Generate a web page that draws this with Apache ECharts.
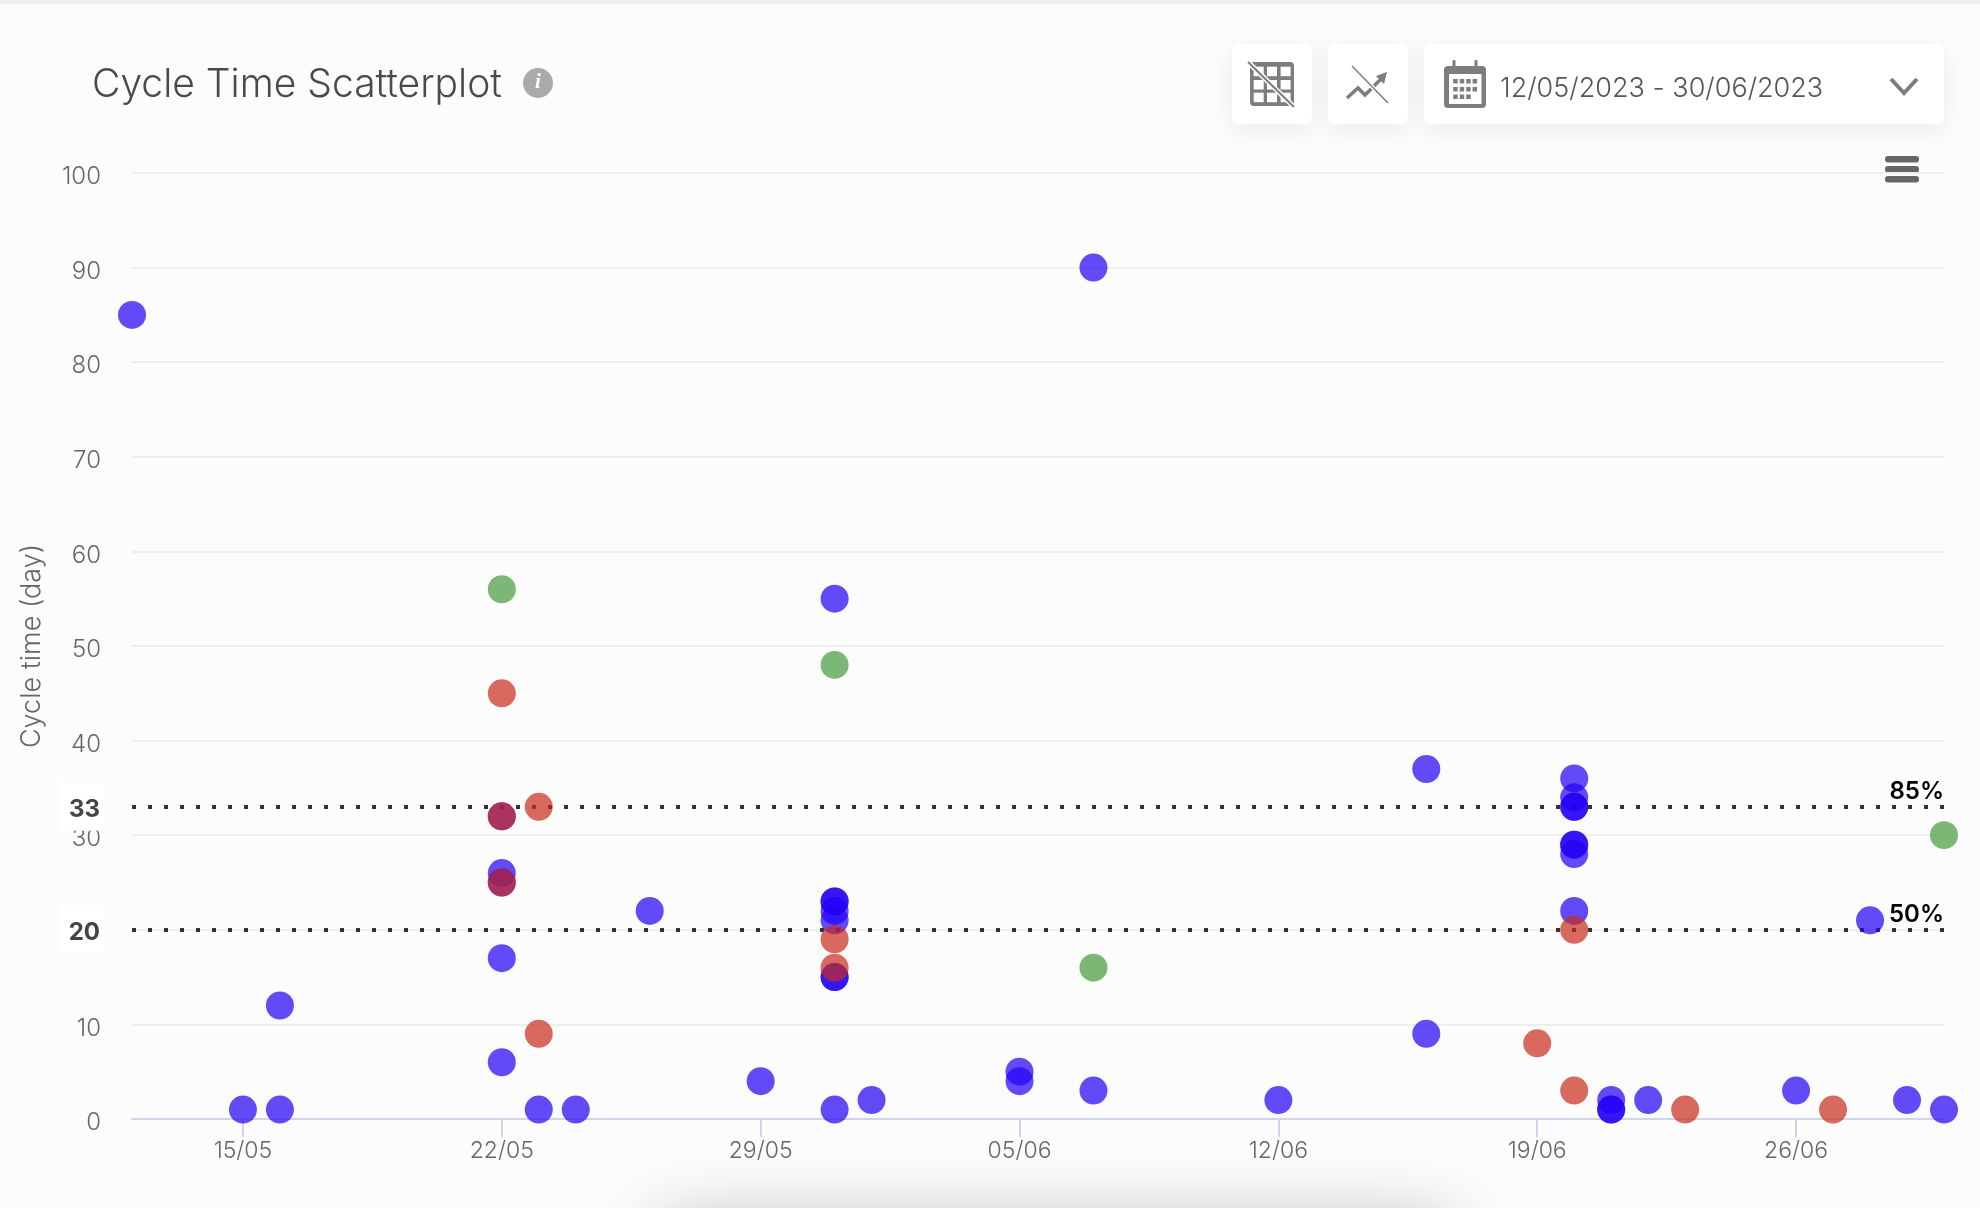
<!DOCTYPE html>
<html>
<head>
<meta charset="utf-8">
<title>Cycle Time Scatterplot</title>
<script src="https://cdn.jsdelivr.net/npm/echarts@6/dist/echarts.min.js"></script>
<style>
html, body { margin: 0; padding: 0; background: #fcfcfc; }
#chart { width: 1980px; height: 1208px; }
</style>
</head>
<body>
<div id="chart"></div>
<script>
'use strict'
// every day of the range, one slot each on the x axis
const days = [
    '12/05','13/05','14/05','15/05','16/05','17/05','18/05','19/05','20/05','21/05',
    '22/05','23/05','24/05','25/05','26/05','27/05','28/05','29/05','30/05','31/05',
    '01/06','02/06','03/06','04/06','05/06','06/06','07/06','08/06','09/06','10/06',
    '11/06','12/06','13/06','14/06','15/06','16/06','17/06','18/06','19/06','20/06',
    '21/06','22/06','23/06','24/06','25/06','26/06','27/06','28/06','29/06','30/06'
];
const tickDays = ['15/05','22/05','29/05','05/06','12/06','19/06','26/06'];

// [closed day, cycle time in days]
const storyPoints = [
    ['12/05',85],['15/05',1],['16/05',12],['16/05',1],
    ['22/05',32],['22/05',26],['22/05',25],['22/05',17],['22/05',6],
    ['23/05',1],['24/05',1],['26/05',22],['29/05',4],
    ['31/05',55],['31/05',23],['31/05',23],['31/05',22],['31/05',21],['31/05',15],['31/05',15],['31/05',1],
    ['01/06',2],['05/06',5],['05/06',4],['07/06',90],['07/06',3],['12/06',2],
    ['16/06',37],['16/06',9],
    ['20/06',36],['20/06',34],['20/06',33],['20/06',33],['20/06',29],['20/06',29],['20/06',28],['20/06',22],
    ['21/06',2],['21/06',1],['21/06',1],['22/06',2],['26/06',3],['28/06',21],['29/06',2],['30/06',1]
];
const bugPoints = [
    ['22/05',45],['22/05',32],['22/05',25],['23/05',33],['23/05',9],
    ['31/05',19],['31/05',16],['19/06',8],['20/06',20],['20/06',3],
    ['23/06',1],['27/06',1]
];
const taskPoints = [['22/05',56],['31/05',48],['07/06',16],['30/06',30]];

const percentileValues = [33, 20];
const percentileNames = ['85%', '50%'];

const GREY = '#7d7d7d';
const TEXT = '#666666';
const FONT = 'Inter';

function card(x, y, w, h) {
    return {
        type: 'rect',
        shape: { x: x, y: y, width: w, height: h, r: 7 },
        style: { fill: '#ffffff', shadowBlur: 22, shadowColor: 'rgba(0,0,0,0.07)', shadowOffsetY: 6 }
    };
}
function box(x, y, w, h, fill, r) {
    return { type: 'rect', shape: { x: x, y: y, width: w, height: h, r: r || 0 }, style: { fill: fill } };
}
function stroke(points, color, width) {
    return {
        type: 'polyline',
        shape: { points: points },
        style: { stroke: color, lineWidth: width, fill: null }
    };
}

// top bar, buttons and icons around the plot
function chromeElements() {
    let els = [
        { type: 'rect', shape: { x: 660, y: 1228, width: 790, height: 50 },
          style: { fill: '#cccccc', shadowBlur: 70, shadowColor: 'rgba(0,0,0,0.35)' } },
        box(0, 0, 1980, 4, '#eeeeee'),
        { type: 'circle', shape: { cx: 538, cy: 83, r: 15 }, style: { fill: '#aaaaaa' } },
        { type: 'text', style: { text: 'i', x: 538, y: 83, align: 'center', verticalAlign: 'middle',
          font: 'italic bold 21px "Liberation Serif"', fill: '#ffffff' } },
        card(1232, 44, 80, 80),
        card(1328, 44, 80, 80),
        card(1424, 44, 520, 80)
    ];
    // grid button
    els.push(box(1250, 62, 44, 44, GREY, 4));
    [1253.7, 1267, 1280.6].forEach(function (x) {
        [66.7, 80, 92.7].forEach(function (y) {
            els.push(box(x, y, 10, 9.5, '#ffffff'));
        });
    });
    els.push(stroke([[1248, 62], [1294, 107]], '#ffffff', 5));
    els.push(stroke([[1248, 62], [1294, 107]], GREY, 2));
    // trend button
    els.push(stroke([[1347, 98], [1358, 88], [1365, 95], [1384, 76]], GREY, 3.5));
    els.push({ type: 'polygon', shape: { points: [[1387, 72], [1384, 84], [1376, 76]] }, style: { fill: GREY } });
    els.push(stroke([[1352, 66], [1388, 103]], '#ffffff', 4));
    els.push(stroke([[1352, 66], [1388, 103]], GREY, 1.5));
    // calendar
    els.push(box(1444, 66, 42, 42, GREY, 4));
    els.push(box(1452.5, 60, 3, 8, GREY, 1));
    els.push(box(1474.5, 60, 3, 8, GREY, 1));
    els.push(box(1449, 74, 32.5, 30, '#ffffff'));
    [79, 87, 94.5].forEach(function (y, row) {
        [1453.2, 1459.7, 1466.2, 1472.6].forEach(function (x, col) {
            if (row === 2 && col === 3) return;
            els.push(box(x, y, 4.5, 4.5, GREY));
        });
    });
    els.push({ type: 'text', style: { text: '12/05/2023 - 30/06/2023', x: 1500, y: 89, verticalAlign: 'middle',
        font: '300 27px ' + FONT, fill: '#555555' } });
    els.push(stroke([[1891, 79], [1904, 93], [1917, 79]], GREY, 4));
    // chart menu
    els.push(box(1877, 160, 48, 26, '#fcfcfc'));
    [156, 166, 176].forEach(function (y) {
        els.push(box(1885, y, 34, 6.5, '#666666', 3));
    });
    return els;
}

function dotSeries(name, color, points) {
    return {
        name: name,
        type: 'scatter',
        data: points,
        symbolSize: 28,
        clip: false,
        itemStyle: { color: color, opacity: 0.7 }
    };
}

function drawChart() {
    let chart = echarts.init(document.getElementById('chart'));
    let blue = dotSeries('Story', 'rgb(33,0,245)', storyPoints);
    // percentile lines hang off the first series, under the dots
    blue.markLine = {
        silent: true,
        symbol: 'none',
        z: 1,
        lineStyle: { color: '#333333', type: [4, 12], width: 4 },
        label: {
            position: 'insideEndTop',
            color: '#000000',
            fontFamily: FONT,
            fontSize: 24,
            fontWeight: 600,
            distance: [0, 3],
            padding: 0,
            formatter: function (p) { return p.name; }
        },
        data: percentileValues.map(function (v, i) {
            return { yAxis: v, name: percentileNames[i] };
        })
    };
    let option = {
        backgroundColor: '#fcfcfc',
        animation: false,
        textStyle: { fontFamily: FONT },
        title: {
            text: 'Cycle Time Scatterplot',
            left: 87,
            top: 61,
            textStyle: { color: '#4a4a4a', fontFamily: FONT, fontSize: 39, fontWeight: 300 }
        },
        grid: { left: 132, right: 36, top: 173, bottom: 89 },
        xAxis: {
            type: 'category',
            data: days,
            boundaryGap: false,
            axisLine: { lineStyle: { color: '#ccd6eb', width: 2 } },
            axisTick: {
                length: 18,
                lineStyle: { color: '#ccd6eb', width: 2 },
                interval: function (i, v) { return tickDays.indexOf(v) >= 0; }
            },
            axisLabel: {
                color: TEXT,
                fontFamily: FONT,
                fontWeight: 300,
                fontSize: 23,
                margin: 21,
                interval: function (i, v) { return tickDays.indexOf(v) >= 0; }
            },
            splitLine: { show: false }
        },
        yAxis: [{
            type: 'value',
            min: 0,
            max: 100,
            interval: 10,
            name: 'Cycle time (day)',
            nameLocation: 'middle',
            nameGap: 87,
            nameTextStyle: { color: TEXT, fontFamily: FONT, fontWeight: 300, fontSize: 27 },
            axisLine: { show: false },
            axisTick: { show: false },
            axisLabel: {
                margin: 31,
                formatter: '{v|{value}}',
                // top padding on the token drops the digits a little under the grid line
                rich: { v: { color: TEXT, fontFamily: FONT, fontWeight: 300, fontSize: 24, padding: [8, 0, 0, 0] } }
            },
            splitLine: { lineStyle: { color: '#eeeeee', width: 2 } }
        }, {
            // bold labels for the percentile values
            type: 'value',
            position: 'left',
            min: 0,
            max: 100,
            axisLine: { show: false },
            axisTick: { show: false },
            splitLine: { show: false },
            axisLabel: {
                customValues: percentileValues,
                margin: 28,
                backgroundColor: '#ffffff',
                padding: [5, 4, 9, 8],
                formatter: '{v|{value}}',
                rich: { v: { color: '#444444', fontFamily: FONT, fontWeight: 700, fontSize: 24, padding: [10, 0, 0, 0] } }
            }
        }],
        series: [
            blue,
            dotSeries('Bug', 'rgb(201,43,29)', bugPoints),
            dotSeries('Task', 'rgb(71,154,60)', taskPoints)
        ],
        graphic: { elements: chromeElements() }
    };
    chart.setOption(option);
}

drawChart();
</script>
</body>
</html>
